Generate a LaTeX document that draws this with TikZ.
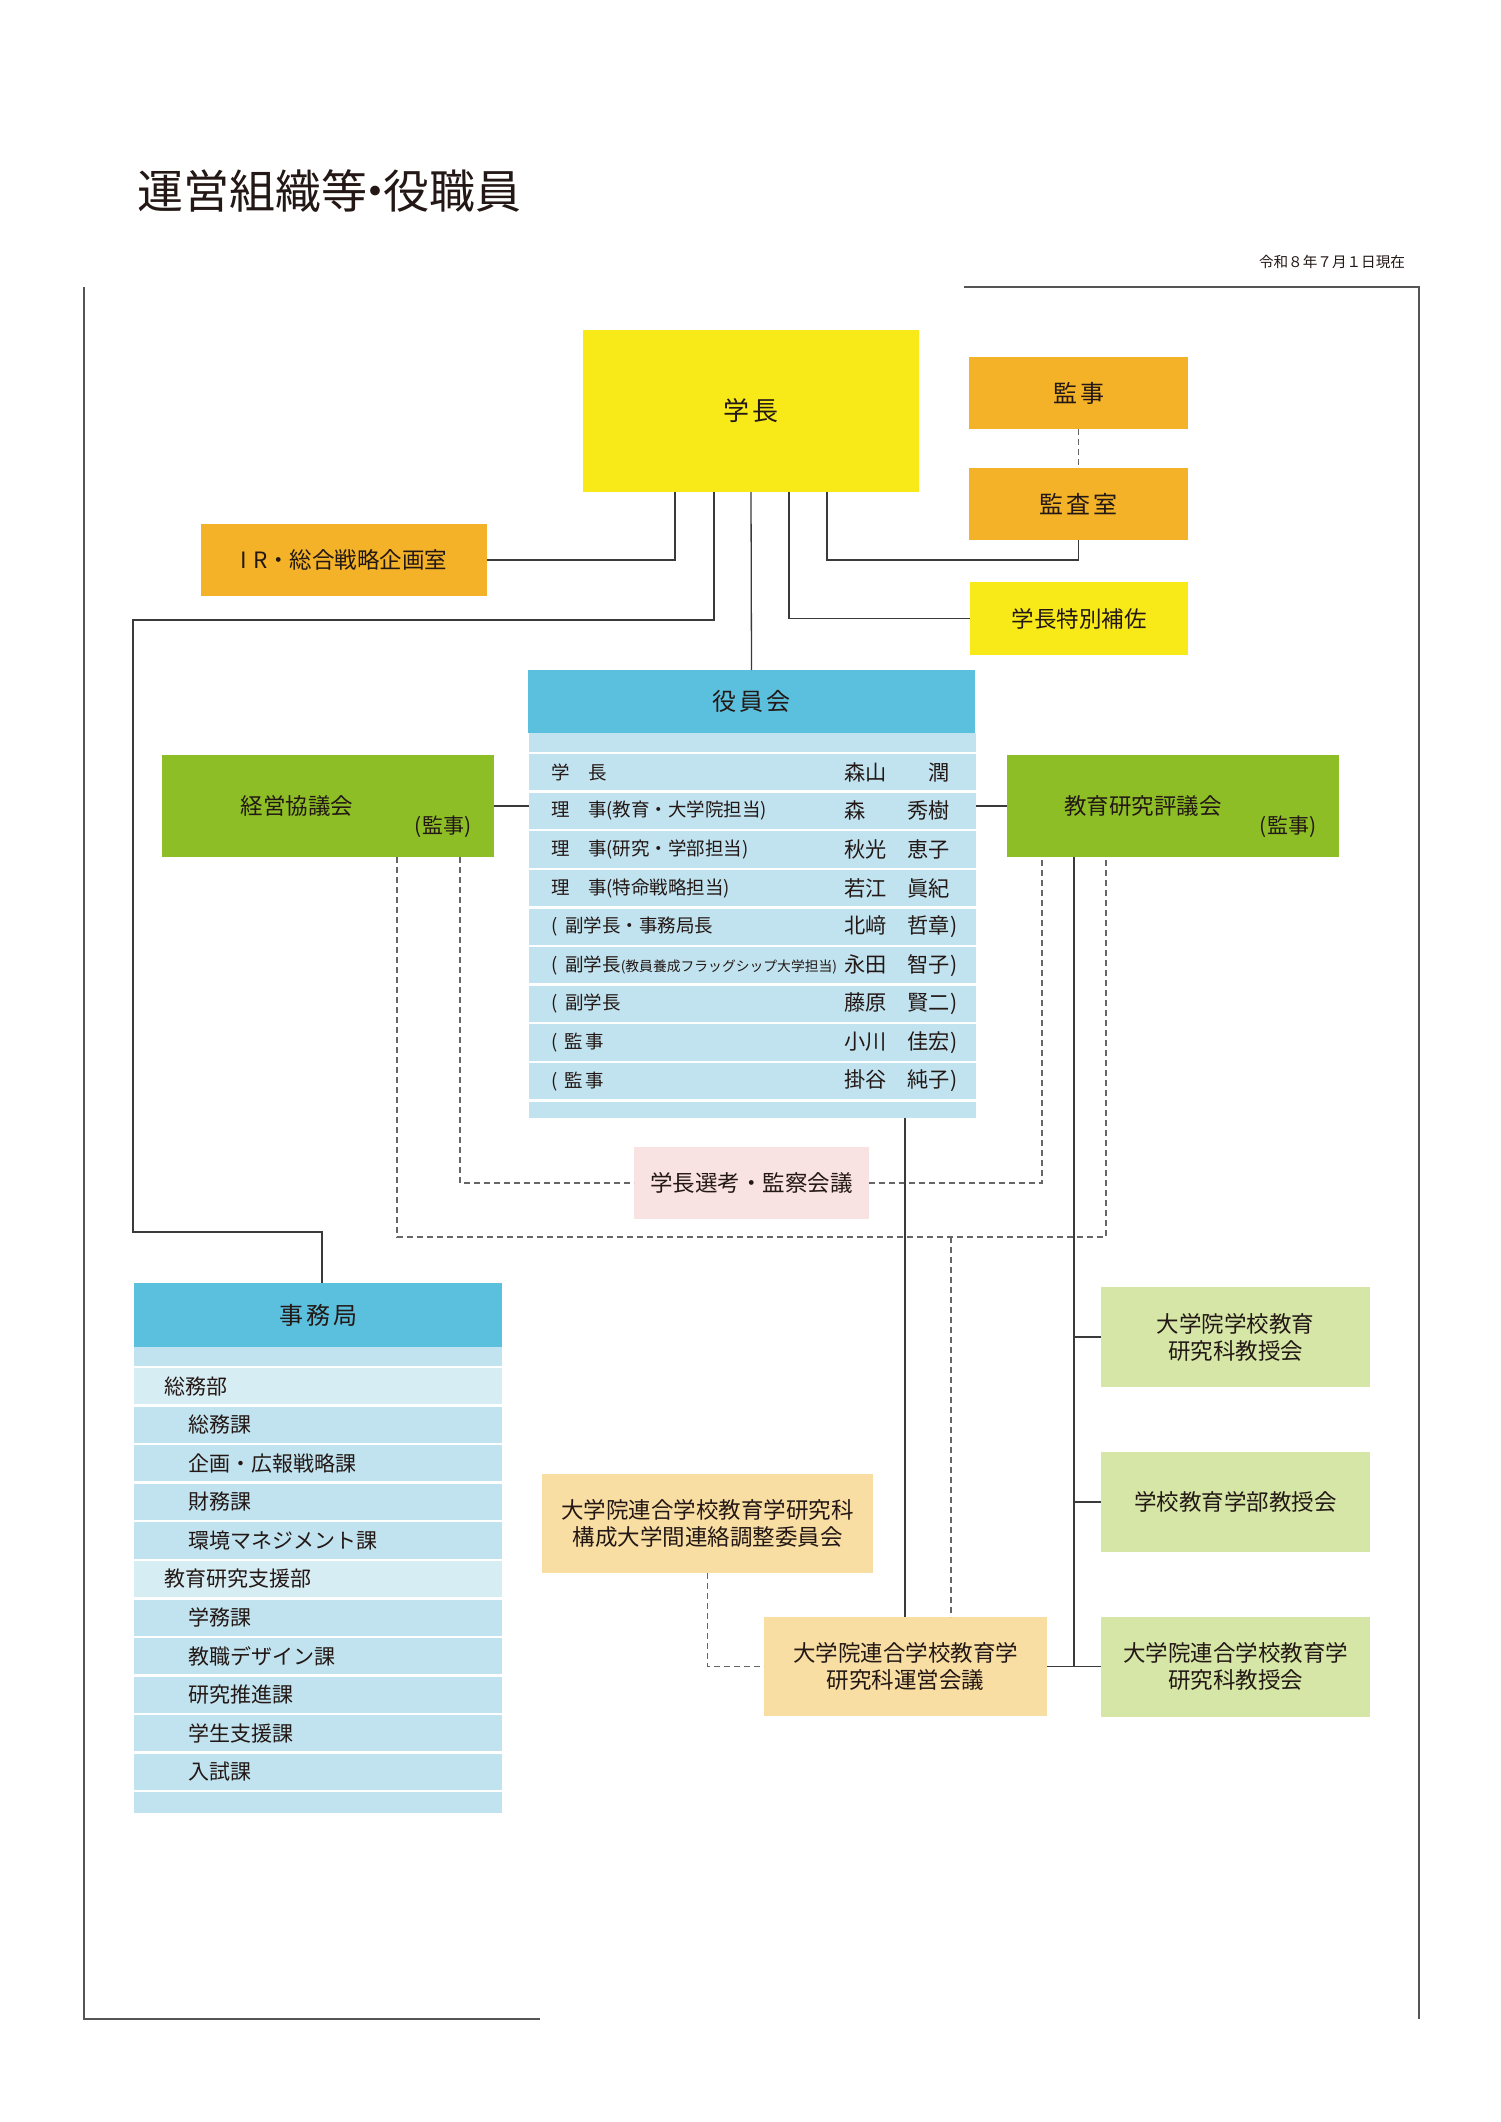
\documentclass[tikz,border=0pt]{standalone}
\usepackage{fontspec}
\usepackage{graphicx}
\setmainfont{Noto Sans CJK JP}
\definecolor{ink}{HTML}{231815}
\definecolor{cyel}{HTML}{F8EA18}
\definecolor{corg}{HTML}{F3B228}
\definecolor{cblu}{HTML}{5BC0DE}
\definecolor{clblu}{HTML}{C1E3EF}
\definecolor{cllblu}{HTML}{D7EDF4}
\definecolor{cgrn}{HTML}{8DBE25}
\definecolor{clgrn}{HTML}{D5E6A6}
\definecolor{cpch}{HTML}{F9DEA3}
\definecolor{cpnk}{HTML}{F9E2E2}
\definecolor{lgray}{HTML}{3A3A3A}
\definecolor{dgray}{HTML}{666666}
\definecolor{fgray}{HTML}{555555}
\newcommand{\myfs}[2]{\fontsize{#1pt}{#2pt}\selectfont}
\begin{document}
\begin{tikzpicture}[x=1pt,y=-1pt,
  plain/.style={inner sep=0pt, outer sep=0pt},
  bx/.style={plain, text=ink, align=center, font=\myfs{22.5}{27}},
  lbl/.style={plain, text=ink},
  rowl/.style={lbl, anchor=west, font=\myfs{18.5}{20}},
  rown/.style={lbl, anchor=west, font=\myfs{21.2}{22}},
  rowj/.style={lbl, anchor=west, font=\myfs{21}{22}},
  conn/.style={draw=lgray, line width=1.3pt},
  dconn/.style={draw=dgray, line width=1.2pt, dash pattern=on 6pt off 4pt},
  frm/.style={draw=fgray, line width=2pt},
  sepline/.style={draw=white, line width=2.5pt}]

\fill[white] (0,0) rectangle (1500,2122);
\useasboundingbox (0,0) rectangle (1500,2122);

% title and date
\node[lbl, anchor=west, font=\myfs{46}{46}] (title) at (137,191) {運営組織等\kern-15pt・\kern-15pt役職員};
\node[lbl, anchor=east, font=\myfs{14.6}{15}] (date) at (1405,262) {令和８年７月１日現在};

% frame
\coordinate (f1) at (84,287); \coordinate (f2) at (84,2019); \coordinate (f3) at (540,2019);
\coordinate (f4) at (964,287); \coordinate (f5) at (1419,287); \coordinate (f6) at (1419,2019);
\draw[frm] (f1) -- (f2) -- (f3);
\draw[frm] (f4) -- (f5) -- (f6);

% top boxes
\node[bx, fill=cyel, minimum width=336pt, minimum height=162pt, font=\myfs{26}{30}] (gakucho) at (751,411) {学\kern4pt長};
\node[bx, fill=corg, minimum width=219pt, minimum height=72pt, font=\myfs{24}{28}] (kanji) at (1078.5,393) {監\kern3pt事};
\node[bx, fill=corg, minimum width=219pt, minimum height=72pt, font=\myfs{24}{28}] (kansa) at (1078.5,504) {監\kern3pt査\kern3pt室};
\node[bx, fill=corg, minimum width=286pt, minimum height=72pt] (ir) at (344,560) {I\hspace{6pt}R・総合戦略企画室};
\node[bx, fill=cyel, minimum width=218pt, minimum height=73pt] (hosa) at (1079,618.5) {学長特別補佐};

% yakuinkai
\node[bx, fill=cblu, minimum width=447pt, minimum height=63pt, font=\myfs{24}{28}] (yakuin) at (751.5,701.5) {役\kern3pt員\kern3pt会};
\node[plain, fill=clblu, minimum width=447pt, minimum height=385pt] (ybody) at (752.5,925.5) {};
\foreach \k in {0,...,9} \draw[sepline] ({529},{753+38.6*\k}) -- ({976},{753+38.6*\k});

\node[rowl] (r1a) at (551,772.3) {学　長};
\node[rown] (r1b) at (844,772.3) {森山　　潤};
\node[rowl] (r2a) at (551,810.9) {理　事(教育・大学院担当)};
\node[rown] (r2b) at (844,810.9) {森　　秀樹};
\node[rowl] (r3a) at (551,849.5) {理　事(研究・学部担当)};
\node[rown] (r3b) at (844,849.5) {秋光　恵子};
\node[rowl] (r4a) at (551,888.1) {理　事(特命戦略担当)};
\node[rown] (r4b) at (844,888.1) {若江　眞紀};
\node[rowl] (r5a) at (551,926.7) {(\hspace{8pt}副学長・事務局長};
\node[rown] (r5b) at (844,926.7) {北﨑　哲章)};
\node[rowl] (r6a) at (551,965.3) {(\hspace{8pt}副学長{\myfs{13.8}{14}(教員養成フラッグシップ大学担当)}};
\node[rown] (r6b) at (844,965.3) {永田　智子)};
\node[rowl] (r7a) at (551,1003.9) {(\hspace{8pt}副学長};
\node[rown] (r7b) at (844,1003.9) {藤原　賢二)};
\node[rowl] (r8a) at (551,1042.5) {(\hspace{7pt}監\kern3pt事};
\node[rown] (r8b) at (844,1042.5) {小川　佳宏)};
\node[rowl] (r9a) at (551,1081.1) {(\hspace{7pt}監\kern3pt事};
\node[rown] (r9b) at (844,1081.1) {掛谷　純子)};

% councils
\node[bx, fill=cgrn, minimum width=332pt, minimum height=102pt] (keiei) at (328,806) {};
\node[lbl, font=\myfs{22.5}{27}] (keieit) at (297,806) {経営協議会};
\node[lbl, font=\myfs{21}{24}] (keieik) at (443,827) {(監事)};
\node[bx, fill=cgrn, minimum width=332pt, minimum height=102pt] (kyoiku) at (1173,806) {};
\node[lbl, font=\myfs{22.5}{27}] (kyoikut) at (1143,806) {教育研究評議会};
\node[lbl, font=\myfs{21}{24}] (kyoikuk) at (1288,827) {(監事)};

\node[bx, fill=cpnk, minimum width=235pt, minimum height=72pt] (senko) at (751.5,1183) {学長選考・監察会議};

% jimukyoku
\node[bx, fill=cblu, minimum width=368pt, minimum height=64pt, font=\myfs{24}{28}] (jimu) at (318,1315) {事\kern3pt務\kern3pt局};
\node[plain, fill=clblu, minimum width=368pt, minimum height=466pt] (jbody) at (318,1580) {};
\fill[cllblu] (134,1367) rectangle (502,1405.55);
\fill[cllblu] (134,1559.75) rectangle (502,1598.3);
\foreach \k in {0,...,11} \draw[sepline] ({134},{1367+38.55*\k}) -- ({502},{1367+38.55*\k});
\node[rowj] (j1) at (164,1386.3) {総務部};
\node[rowj] (j2) at (188,1424.8) {総務課};
\node[rowj] (j3) at (188,1463.4) {企画・広報戦略課};
\node[rowj] (j4) at (188,1501.9) {財務課};
\node[rowj] (j5) at (188,1540.5) {環境マネジメント課};
\node[rowj] (j6) at (164,1579.0) {教育研究支援部};
\node[rowj] (j7) at (188,1617.6) {学務課};
\node[rowj] (j8) at (188,1656.1) {教職デザイン課};
\node[rowj] (j9) at (188,1694.7) {研究推進課};
\node[rowj] (j10) at (188,1733.2) {学生支援課};
\node[rowj] (j11) at (188,1771.8) {入試課};

% faculty meetings
\node[bx, fill=clgrn, minimum width=269pt, minimum height=100pt] (gs1) at (1235.5,1337) {大学院学校教育\\研究科教授会};
\node[bx, fill=clgrn, minimum width=269pt, minimum height=100pt] (gs2) at (1235.5,1502) {学校教育学部教授会};
\node[bx, fill=clgrn, minimum width=269pt, minimum height=100pt] (gs3) at (1235.5,1666.5) {大学院連合学校教育学\\研究科教授会};
\node[bx, fill=cpch, minimum width=331pt, minimum height=99pt] (kosei) at (707.5,1523.5) {大学院連合学校教育学研究科\\構成大学間連絡調整委員会};
\node[bx, fill=cpch, minimum width=283pt, minimum height=99pt] (unei) at (905.5,1666.5) {大学院連合学校教育学\\研究科運営会議};

% helper coordinates
\coordinate (xA) at (675,0); \coordinate (xB) at (714,0);
\coordinate (xD) at (789,0); \coordinate (xE) at (827,0);
\coordinate (jL1) at (133,620); \coordinate (jL2) at (133,1232); \coordinate (jL3) at (322,1232);
\coordinate (xK1) at (397,0); \coordinate (xK2) at (460,0);
\coordinate (xV1) at (1042,0); \coordinate (xV2) at (1106,0);
\coordinate (xM) at (951,0); \coordinate (xS) at (905,0); \coordinate (xG) at (1074,0);
\coordinate (oB) at (1106,1237);

% connectors
\draw[conn] (gakucho.south -| xA) |- (ir.east);
\draw[conn] (gakucho.south -| xB) |- (jL1) -- (jL2) -- (jL3) -- (jL3 |- jimu.north);
\draw[conn] (gakucho.south) -- (yakuin.north);
\draw[conn] (gakucho.south -| xD) |- (hosa.west);
\draw[conn] (gakucho.south -| xE) |- (kansa.south |- ir.east) -- (kansa.south);
\draw[dconn] (kanji.south) -- (kansa.north);
\draw[conn] (keiei.east) -- (keiei.east -| ybody.west);
\draw[conn] (kyoiku.west) -- (kyoiku.west -| ybody.east);

\draw[dconn] (keiei.south -| xK2) |- (senko.west);
\draw[dconn] (senko.east) -| (kyoiku.south -| xV1);
\draw[dconn] (keiei.south -| xK1) |- (oB) -- (kyoiku.south -| xV2);
\draw[dconn] (xM |- oB) -- (unei.north -| xM);
\draw[conn] (ybody.south -| xS) -- (unei.north -| xS);
\draw[conn] (kyoiku.south -| xG) -- (xG |- gs3.west);
\draw[conn] (xG |- gs1.west) -- (gs1.west);
\draw[conn] (xG |- gs2.west) -- (gs2.west);
\draw[conn] (unei.east) -- (gs3.west);
\draw[dconn] (kosei.south) |- (unei.west);
\end{tikzpicture}
\end{document}
